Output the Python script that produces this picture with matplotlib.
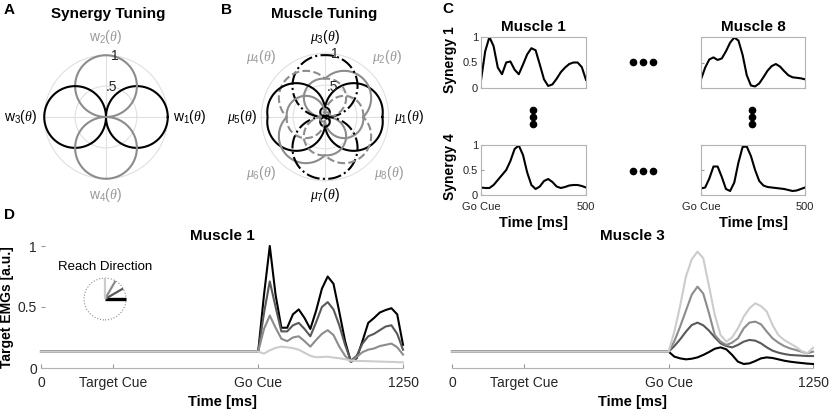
import numpy as np
import matplotlib
matplotlib.use('Agg')
import matplotlib.pyplot as plt
from matplotlib.patches import Circle

plt.rcParams['font.family'] = ['Liberation Sans', 'DejaVu Sans']
plt.rcParams['mathtext.fontset'] = 'custom'
plt.rcParams['mathtext.rm'] = 'Liberation Sans'
plt.rcParams['mathtext.it'] = 'Liberation Serif:italic'
plt.rcParams['mathtext.bf'] = 'Liberation Sans:bold'

# ---------------- data ----------------
# A: synergy preferred directions (deg)
syn_dirs = [0, 90, 180, 270]
syn_colors = ['k', '0.55', 'k', '0.55']
syn_labels = [r'$\mathrm{w}_1(\theta)$', r'$\mathrm{w}_2(\theta)$',
              r'$\mathrm{w}_3(\theta)$', r'$\mathrm{w}_4(\theta)$']
syn_label_r = [1.36, 1.29, 1.39, 1.27]
syn_label_col = ['k', '0.6', 'k', '0.6']

# B: muscle weights on synergies (w1, w2, w3, w4)
mus_w = [[0.90, 0.15, 0.00, 0.15],
         [0.60, 0.60, 0.06, 0.06],
         [0.05, 0.97, 0.05, 0.00],
         [0.06, 0.60, 0.60, 0.06],
         [0.00, 0.15, 0.90, 0.15],
         [0.06, 0.06, 0.60, 0.60],
         [0.05, 0.00, 0.05, 0.97],
         [0.60, 0.06, 0.06, 0.60]]
mus_colors = ['k', '0.55', 'k', '0.55', 'k', '0.55', 'k', '0.55']
mus_styles = ['-', '-', '-.', '--', '-', '-', '-.', '--']
mus_label_ang = [0, 44, 90, 137, 180, 221, 270, 319]
mus_label_r = [1.31, 1.36, 1.25, 1.37, 1.31, 1.33, 1.23, 1.33]

# C: synergy time courses (ms after go cue)
t_c = list(range(0, 501, 20))
c_m1_s1 = [0.15, 0.72, 1.00, 0.82, 0.40, 0.27, 0.50, 0.52, 0.36, 0.27, 0.46, 0.66, 0.78,
           0.74, 0.46, 0.17, 0.04, 0.07, 0.18, 0.31, 0.40, 0.47, 0.50, 0.50, 0.41, 0.16]
c_m8_s1 = [0.17, 0.40, 0.56, 0.60, 0.55, 0.58, 0.72, 0.89, 0.99, 0.93, 0.65, 0.25, 0.05,
           0.03, 0.09, 0.21, 0.34, 0.43, 0.47, 0.42, 0.33, 0.25, 0.21, 0.20, 0.19, 0.17]
c_m1_s4 = [0.15, 0.14, 0.14, 0.20, 0.30, 0.40, 0.50, 0.68, 0.92, 0.99, 0.80, 0.45, 0.20,
           0.12, 0.17, 0.28, 0.32, 0.26, 0.17, 0.14, 0.16, 0.19, 0.20, 0.20, 0.18, 0.15]
c_m8_s4 = [0.13, 0.15, 0.33, 0.57, 0.57, 0.36, 0.12, 0.08, 0.25, 0.65, 0.96, 0.97, 0.78,
           0.50, 0.28, 0.19, 0.16, 0.15, 0.14, 0.13, 0.12, 0.10, 0.08, 0.09, 0.12, 0.15]

# D: target EMGs for reach directions
go_cue = 750
target_cue = 250
t_end = 1250
baseline = 0.134
reach_dirs = [0, 30, 60, 90]
reach_colors = ['k', '0.35', '0.55', '0.8']
d_m1_0 = [0.134, 0.60, 1.00, 0.60, 0.33, 0.33, 0.44, 0.48, 0.41, 0.32, 0.47, 0.65, 0.75,
          0.69, 0.46, 0.22, 0.05, 0.08, 0.22, 0.37, 0.41, 0.455, 0.475, 0.49, 0.44, 0.19]
d_m1_30 = [0.134, 0.45, 0.71, 0.50, 0.30, 0.30, 0.35, 0.37, 0.32, 0.26, 0.375, 0.50, 0.54,
           0.48, 0.35, 0.19, 0.06, 0.10, 0.20, 0.26, 0.28, 0.31, 0.34, 0.35, 0.28, 0.15]
d_m1_60 = [0.134, 0.32, 0.43, 0.33, 0.24, 0.22, 0.25, 0.26, 0.22, 0.175, 0.23, 0.28, 0.31,
           0.27, 0.175, 0.10, 0.05, 0.09, 0.13, 0.15, 0.16, 0.18, 0.19, 0.20, 0.17, 0.11]
d_m1_90 = [0.134, 0.118, 0.145, 0.165, 0.175, 0.17, 0.163, 0.15, 0.125, 0.10, 0.088, 0.09,
           0.093, 0.085, 0.08, 0.072, 0.062, 0.058, 0.057, 0.056, 0.054, 0.053, 0.051, 0.05,
           0.048, 0.046]
d_m3_0 = [0.134, 0.093, 0.079, 0.071, 0.076, 0.087, 0.107, 0.131, 0.158, 0.169, 0.153, 0.107,
          0.052, 0.033, 0.038, 0.057, 0.079, 0.087, 0.082, 0.071, 0.060, 0.052, 0.046, 0.041,
          0.036, 0.033]
d_m3_30 = [0.134, 0.18, 0.235, 0.298, 0.352, 0.372, 0.35, 0.306, 0.251, 0.202, 0.18, 0.169,
           0.189, 0.216, 0.23, 0.224, 0.202, 0.169, 0.142, 0.126, 0.115, 0.107, 0.104, 0.101,
           0.098, 0.098]
d_m3_60 = [0.134, 0.22, 0.34, 0.47, 0.60, 0.667, 0.61, 0.448, 0.27, 0.216, 0.189, 0.208,
           0.243, 0.325, 0.372, 0.38, 0.358, 0.298, 0.243, 0.208, 0.18, 0.161, 0.148, 0.134,
           0.12, 0.134]
d_m3_90 = [0.134, 0.30, 0.51, 0.75, 0.89, 0.954, 0.90, 0.67, 0.434, 0.27, 0.216, 0.251,
           0.325, 0.421, 0.489, 0.53, 0.508, 0.462, 0.352, 0.27, 0.23, 0.202, 0.175, 0.14,
           0.12, 0.165]

# ---------------- figure ----------------
W, H = 830, 412
fig = plt.figure(figsize=(W / 100, H / 100), dpi=100)


def px(l, t, r, b):
    return [l / W, 1 - b / H, (r - l) / W, (b - t) / H]


def polar_style(ax, ang1, ang5):
    ax.set_ylim(0, 1.02)
    ax.set_yticks([0.5, 1])
    ax.set_yticklabels([])
    ax.set_xticks(np.deg2rad([0, 90, 180, 270]))
    ax.set_xticklabels([])
    ax.grid(color='0.88', lw=0.8)
    ax.spines['polar'].set_visible(False)
    ax.text(np.deg2rad(ang1), 1.0, '1', fontsize=10, color='0.15',
            ha='center', va='center', zorder=5)
    ax.text(np.deg2rad(ang5), 0.49, '.5', fontsize=10, color='0.15',
            ha='center', va='center', zorder=5)


theta = np.linspace(0, 2 * np.pi, 721)
syn_r = np.array([np.clip(np.cos(theta - np.deg2rad(d)), 0, None) for d in syn_dirs])

# ---- A ----
axA = fig.add_axes(px(43, 54, 169, 180), projection='polar')
polar_style(axA, 82, 80)
for k in range(4):
    axA.plot(theta, syn_r[k], color=syn_colors[k], lw=1.5, clip_on=False)
    axA.text(np.deg2rad(syn_dirs[k]), syn_label_r[k], syn_labels[k], color=syn_label_col[k],
             fontsize=10, ha='center', va='center')
fig.text(108 / W, 1 - 14 / H, 'Synergy Tuning', fontsize=11, fontweight='bold',
         ha='center', va='center')
fig.text(4 / W, 1 - 10 / H, 'A', fontsize=11, fontweight='bold', va='center')

# ---- B ----
axB = fig.add_axes(px(260, 52, 390, 182), projection='polar')
polar_style(axB, 81, 76)
mus_r = np.array(mus_w) @ syn_r
for k in range(8):
    axB.plot(theta, mus_r[k], color=mus_colors[k], ls=mus_styles[k], lw=1.5, clip_on=False)
    col = 'k' if k % 2 == 0 else '0.6'
    axB.text(np.deg2rad(mus_label_ang[k]), mus_label_r[k], r'$\mu_%d(\theta)$' % (k + 1),
             color=col, fontsize=10, ha='center', va='center')
fig.text(324 / W, 1 - 14 / H, 'Muscle Tuning', fontsize=11, fontweight='bold',
         ha='center', va='center')
fig.text(221 / W, 1 - 10 / H, 'B', fontsize=11, fontweight='bold', va='center')

# ---- C ----
fig.text(442 / W, 1 - 9 / H, 'C', fontsize=11, fontweight='bold', va='center')
c_panels = [(px(481, 37, 586, 88), c_m1_s1, 'Muscle 1', 'Synergy 1', False),
            (px(701, 37, 805, 88), c_m8_s1, 'Muscle 8', None, False),
            (px(481, 145, 586, 195), c_m1_s4, None, 'Synergy 4', True),
            (px(701, 145, 805, 195), c_m8_s4, None, None, True)]
for pos, vals, title, ylab, bottom in c_panels:
    ax = fig.add_axes(pos)
    ax.plot(t_c, vals, color='k', lw=1.5)
    ax.set_xlim(0, 500)
    ax.set_ylim(0, 1)
    for s in ax.spines.values():
        s.set_color('0.7')
        s.set_linewidth(0.8)
    ax.tick_params(direction='in', length=2.5, color='0.6', labelsize=8,
                   labelcolor='0.15', pad=2)
    ax.tick_params(axis='x', pad=5)
    ax.set_xticks([0, 500])
    ax.set_yticks([0, 0.5, 1])
    if title:
        ax.set_title(title, fontsize=11, fontweight='bold', pad=4)
    if ylab:
        ax.set_yticklabels(['0', '0.5', '1'])
        ax.set_ylabel(ylab, fontsize=10, fontweight='bold')
        ax.yaxis.set_label_coords(-0.225, 0.56)
    else:
        ax.set_yticklabels([])
    if bottom:
        ax.set_xticklabels(['Go Cue', '500'])
        ax.set_xlabel('Time [ms]', fontsize=10.5, fontweight='bold')
        ax.xaxis.set_label_coords(0.5, -0.42)
    else:
        ax.set_xticklabels([])

# ---- D ----
fig.text(4 / W, 1 - 215 / H, 'D', fontsize=11, fontweight='bold', va='center')
t_d = np.r_[0, go_cue + np.array(t_c)]
d_sets = [(px(41, 246, 403, 368), [d_m1_0, d_m1_30, d_m1_60, d_m1_90], 'Muscle 1', True),
          (px(452, 246, 813, 368), [d_m3_0, d_m3_30, d_m3_60, d_m3_90], 'Muscle 3', False)]
for pos, curves, title, left in d_sets:
    ax = fig.add_axes(pos)
    for vals, col in zip(curves, reach_colors):
        ax.plot(t_d, np.r_[baseline, vals], color=col, lw=1.5, clip_on=False,
                solid_joinstyle='round')
    ax.set_xlim(0, t_end)
    ax.set_ylim(0, 1)
    ax.set_xticks([0, target_cue, go_cue, t_end])
    ax.set_xticklabels(['0', 'Target Cue', 'Go Cue', '1250'])
    for s in ['top', 'right', 'left']:
        ax.spines[s].set_visible(False)
    ax.spines['bottom'].set_color('0.7')
    ax.tick_params(direction='in', length=3, color='0.6', labelsize=10,
                   labelcolor='0.15', pad=6)
    ax.set_title(title, fontsize=11, fontweight='bold', pad=4)
    ax.set_xlabel('Time [ms]', fontsize=10.5, fontweight='bold')
    ax.xaxis.set_label_coords(0.5, -0.22)
    if left:
        ax.set_yticks([0, 0.5, 1])
        ax.set_yticklabels(['0', '0.5', '1'])
        ax.tick_params(axis='y', pad=3)
        ax.set_ylabel('Target EMGs [a.u.]', fontsize=10, fontweight='bold')
        ax.yaxis.set_label_coords(-0.074, 0.5)
    else:
        ax.set_yticks([])

# reach direction inset
fig.text(105 / W, 1 - 267 / H, 'Reach Direction', fontsize=9.5, ha='center', va='center')
axR = fig.add_axes(px(83, 277, 127, 321))
axR.set_xlim(-1.05, 1.05)
axR.set_ylim(-1.05, 1.05)
axR.set_aspect('equal')
axR.axis('off')
axR.add_patch(Circle((0, 0), 1, fill=False, ls=':', lw=0.8, color='0.55'))
for ang, col in zip(reach_dirs, reach_colors):
    a = np.deg2rad(ang)
    axR.plot([0, np.cos(a)], [0, np.sin(a)], color=col, lw=2.4 if ang == 0 else 1.6,
             solid_capstyle='butt')

# ellipsis dots
ov = fig.add_axes([0, 0, 1, 1])
ov.set_xlim(0, W)
ov.set_ylim(H, 0)
ov.axis('off')
ov.plot([633, 643, 653], [62, 62, 62], 'o', color='k', ms=4.5)
ov.plot([633, 643, 653], [171, 171, 171], 'o', color='k', ms=4.5)
ov.plot([533, 533, 533], [110, 117, 124], 'o', color='k', ms=4.5)
ov.plot([752, 752, 752], [110, 117, 124], 'o', color='k', ms=4.5)

fig.savefig('out.png', dpi=100)
